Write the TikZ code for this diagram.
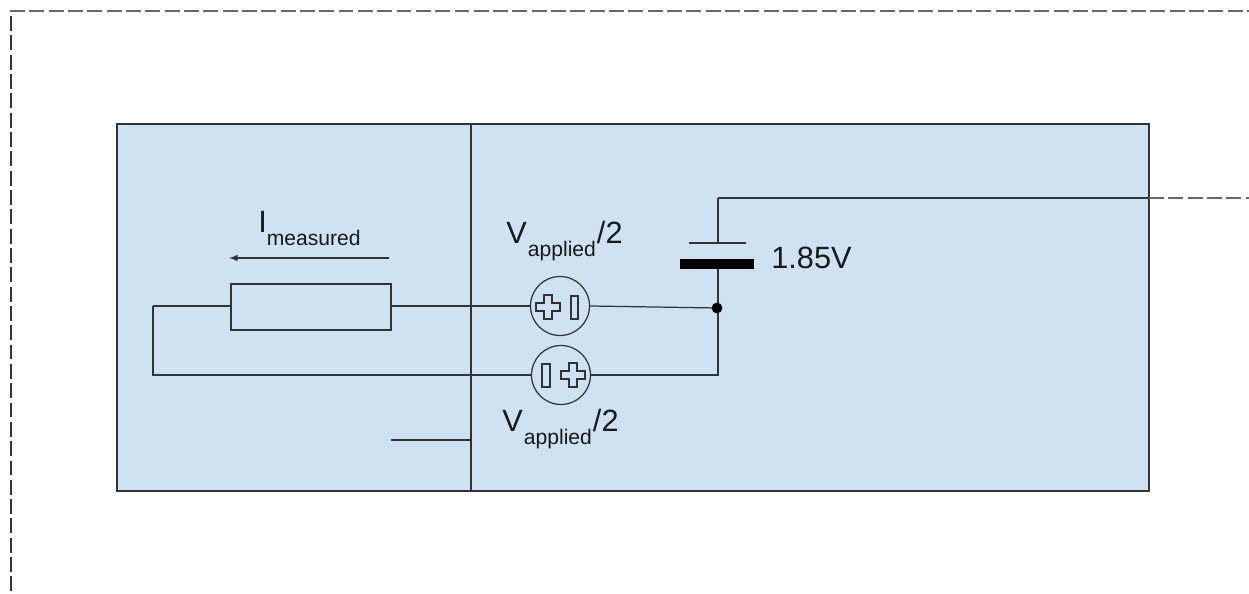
\documentclass[tikz,border=0pt]{standalone}
\usepackage{fontspec}
\setmainfont{Liberation Sans}
\definecolor{panelblue}{HTML}{CFE2F3}
\definecolor{wiregray}{HTML}{333333}
\newcommand{\lowered}[2]{\raisebox{-#1}{\fontsize{12}{14}\selectfont #2}}
\tikzset{
  wire/.style={draw=wiregray, line width=0.7pt},
  frameline/.style={draw=wiregray!75, line width=0.7pt, dash pattern=on 8.5pt off 2.5pt},
  source/.style={circle, draw=wiregray, line width=0.7pt, minimum size=1.18cm, inner sep=0pt},
  label/.style={inner sep=0pt, text=black!90, anchor=base west, font=\fontsize{17.5}{20}\selectfont},
  plusmark/.pic={
    \draw [wire] (-4,-12) -- (4,-12) -- (4,-4) -- (12,-4) -- (12,4) -- (4,4) -- (4,12)
      -- (-4,12) -- (-4,4) -- (-12,4) -- (-12,-4) -- (-4,-4) -- cycle;
  }
}
\begin{document}
\begin{tikzpicture}[x=0.02cm, y=-0.02cm]
    \useasboundingbox (0,0) rectangle (1249,594);

    \draw [frameline] (10,11) -- (1249,11);
    \draw [frameline, draw=wiregray] (11,16) -- (11,594);
    \draw [wire, line width=0.9pt, fill=panelblue] (117,124) rectangle (1149,491);
    \draw [wire] (471,124) -- (471,491);

    \coordinate (farleft) at (153,306);
    \coordinate (farbottom) at (153,375);
    \coordinate (junction) at (717,308);
    \coordinate (corner) at (718,375);
    \coordinate (top) at (718,198);
    \coordinate (edge) at (1149,198);
    \coordinate (away) at (1249,198);
    \coordinate (stub) at (391,440);
    \coordinate (stubend) at (471,440);
    \coordinate (arrowstart) at (389,258);
    \coordinate (arrowend) at (229,258);

    \node [draw=wiregray, line width=0.7pt, minimum width=3.2cm, minimum height=0.92cm, inner sep=0pt] (resistor) at (311,307) {};
    \node [source] (upper) at (560,306) {};
    \node [source] (lower) at (561,375) {};
    \node [minimum width=1.14cm, minimum height=0.02cm, inner sep=0pt] (thinplate) at (717.5,243) {};
    \node [fill=black, minimum width=1.48cm, minimum height=0.2cm, inner sep=0pt] (thickplate) at (717,264) {};

    \draw [wire] (thinplate.west) -- (thinplate.east);
    \draw [wire] (top) -- (top |- thinplate.center);
    \draw [wire] (thickplate.south -| top) -- (corner) -- (lower.east);
    \draw [wire] (upper.east) -- (junction);
    \draw [wire] (top) -- (edge);
    \draw [wire, draw=wiregray!75, dash pattern=on 8.5pt off 2.5pt] (edge) -- (away);
    \draw [wire] (upper.west) -- (upper.west -| resistor.east);
    \draw [wire] (resistor.west |- farleft) -- (farleft);
    \draw [wire] (farleft) -- (farbottom) -- (lower.west);
    \draw [wire] (stub) -- (stubend);
    \draw [wire, -latex] (arrowstart) -- (arrowend);
    \filldraw (junction) circle (5);

    % signs in the two sources
    \pic at (548,307) {plusmark};
    \draw [wire] (571,296) rectangle (578,319);
    \draw [wire] (542,364) rectangle (550,387);
    \pic at (573,375) {plusmark};

    \node [label] (current) at (258,233) {I\lowered{7.4pt}{measured}};
    \node [label] (vtop) at (506,244) {V\kern0.6pt\lowered{7.4pt}{applied}\kern0.6pt/2};
    \node [label] (vbottom) at (502,432) {V\kern0.6pt\lowered{7.4pt}{applied}\kern0.6pt/2};
    \node [label] (battery) at (771,269) {1.85V};
\end{tikzpicture}
\end{document}
